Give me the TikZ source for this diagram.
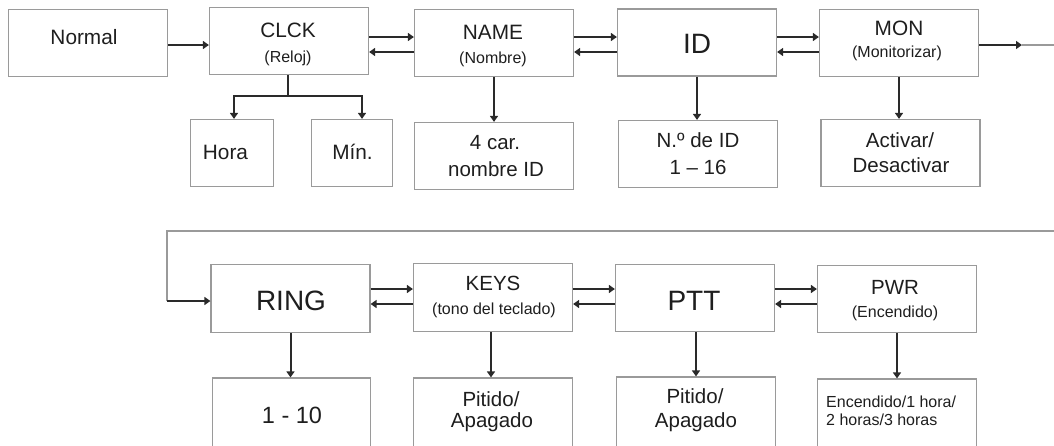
\documentclass[tikz,border=0pt]{standalone}
\usepackage{fontspec}
\setmainfont{Liberation Sans}
\usetikzlibrary{arrows.meta,calc}
\definecolor{boxc}{HTML}{9A9A9A}
\definecolor{arrc}{HTML}{2A2A2A}
\definecolor{txtc}{HTML}{1E1E1E}
\begin{document}
\begin{tikzpicture}[x=1pt,y=-1pt,
  box/.style={draw=boxc, line width=1.2pt, minimum width=159pt, minimum height=67pt, inner sep=0pt},
  sbox/.style={box, minimum width=83pt},
  lbox/.style={box, minimum height=90pt},
  arr/.style={draw=arrc, line width=2pt, -{Triangle[length=6pt,width=8pt]}},
  ln/.style={draw=arrc, line width=2pt},
  gl/.style={draw=boxc, line width=1.3pt},
  tl/.style={text=txtc, inner sep=0pt, font=\fontsize{20.8}{25}\selectfont},
  tb/.style={text=txtc, inner sep=0pt, font=\fontsize{28}{33}\selectfont},
  tm/.style={text=txtc, inner sep=0pt, font=\fontsize{20.5}{24}\selectfont},
  ts/.style={text=txtc, inner sep=0pt, font=\fontsize{16}{19}\selectfont}]
\useasboundingbox (0,0) rectangle (1054,445);
\clip (0,0) rectangle (1054,445);
% top row boxes
\node[box] (normal) at (88,43) {};
\node[box] (clck) at (289,41) {};
\node[box] (name) at (494,43) {};
\node[box] (id) at (697,42.5) {};
\node[box] (mon) at (899,43) {};
% top sub boxes
\node[sbox] (hora) at (232,153) {};
\node[sbox, minimum width=81pt] (min) at (352,153) {};
\node[box] (car) at (494,156) {};
\node[box] (nid) at (698,154) {};
\node[box] (act) at (900.5,153) {};
% bottom row boxes
\node[box, minimum height=68pt] (ring) at (290.5,298.5) {};
\node[box, minimum height=68pt] (keys) at (493,297.5) {};
\node[box] (ptt) at (695,298) {};
\node[box] (pwr) at (897,299) {};
% bottom sub boxes (cut off at the bottom)
\node[lbox, minimum width=158pt] (r10) at (291.5,423) {};
\node[lbox] (kp) at (493,423) {};
\node[lbox] (pp) at (696,422) {};
\node[lbox] (pwo) at (897,424) {};
% texts
\node[tl] (tnormal) at (84,37) {Normal};
\node[tl] (tclck) at (288,30) {CLCK};
\node[ts] (treloj) at (288,58) {(Reloj)};
\node[tl] (tname) at (493,32) {NAME};
\node[ts] (tnombre) at (493,59) {(Nombre)};
\node[tb] (tid) at (697,44) {ID};
\node[tl] (tmon) at (899,28) {MON};
\node[ts] (tmonit) at (897,53) {(Monitorizar)};
\node[tl] (thora) at (225.5,152) {Hora};
\node[tl] (tmin) at (352.5,152) {Mín.};
\node[tm] (tcar1) at (495,143) {4 car.};
\node[tm] (tcar2) at (496,169) {nombre ID};
\node[tm] (tnid1) at (698,140) {N.º de ID};
\node[tm] (tnid2) at (698,167) {1 – 16};
\node[tm] (tact1) at (900,140) {Activar/};
\node[tm] (tact2) at (901,165) {Desactivar};
\node[tb] (tring) at (291,301) {RING};
\node[tm] (tkeys) at (493,283) {KEYS};
\node[ts] (ttono) at (494,310) {(tono del teclado)};
\node[tb] (tptt) at (694,301) {PTT};
\node[tm] (tpwr) at (895,287) {PWR};
\node[ts] (tenc) at (895,313) {(Encendido)};
\node[tb, font=\fontsize{23.5}{28}\selectfont] (tr10) at (292,415) {1 - 10};
\node[tm] (tkp1) at (491,399) {Pitido/};
\node[tm] (tkp2) at (492,422) {Apagado};
\node[tm] (tpp1) at (695,396) {Pitido/};
\node[tm] (tpp2) at (696,422) {Apagado};
\node[ts, anchor=west] (tpw1) at (826,402) {Encendido/1 hora/};
\node[ts, anchor=west] (tpw2) at (826,420) {2 horas/3 horas};
% top row connectors
\draw[arr] (normal.east |- 0,45) -- (clck.west |- 0,45);
\draw[arr] (clck.east |- 0,37) -- (name.west |- 0,37);
\draw[arr] (name.west |- 0,52) -- (clck.east |- 0,52);
\draw[arr] (name.east |- 0,37) -- (id.west |- 0,37);
\draw[arr] (id.west |- 0,52) -- (name.east |- 0,52);
\draw[arr] (id.east |- 0,37) -- (mon.west |- 0,37);
\draw[arr] (mon.west |- 0,52) -- (id.east |- 0,52);
\coordinate (exit) at (1022,45);
\draw[arr] (mon.east |- exit) -- (exit);
\draw[gl] (exit) -- (1054,45);
% clock branches
\coordinate (br) at (288,96);
\draw[ln] (br |- clck.south) -- (br);
\draw[arr] (br) -| ($(hora.north)+(2,0)$);
\draw[arr] (br) -| ($(min.north)+(10,0)$);
\draw[arr] (name.south) -- (car.north);
\draw[arr] (id.south) -- (id.south |- nid.north);
\draw[arr] (mon.south) -- (mon.south |- act.north);
% wrap-around
\coordinate (wr) at (1054,231);
\coordinate (wl) at (167,231);
\coordinate (wd) at (167,301);
\draw[gl] (wr) -- (wl) -- (wd);
\draw[arr] (wd) -- (ring.west |- wd);
% bottom row connectors
\draw[arr] (ring.east |- 0,289) -- (keys.west |- 0,289);
\draw[arr] (keys.west |- 0,304) -- (ring.east |- 0,304);
\draw[arr] (keys.east |- 0,289) -- (ptt.west |- 0,289);
\draw[arr] (ptt.west |- 0,304) -- (keys.east |- 0,304);
\draw[arr] (ptt.east |- 0,289) -- (pwr.west |- 0,289);
\draw[arr] (pwr.west |- 0,304) -- (ptt.east |- 0,304);
\draw[arr] (ring.south) -- (ring.south |- r10.north);
\draw[arr] (keys.south -| 491,0) -- (kp.north -| 491,0);
\draw[arr] (ptt.south -| 696,0) -- (pp.north -| 696,0);
\draw[arr] (pwr.south) -- (pwr.south |- pwo.north);
\end{tikzpicture}
\end{document}
